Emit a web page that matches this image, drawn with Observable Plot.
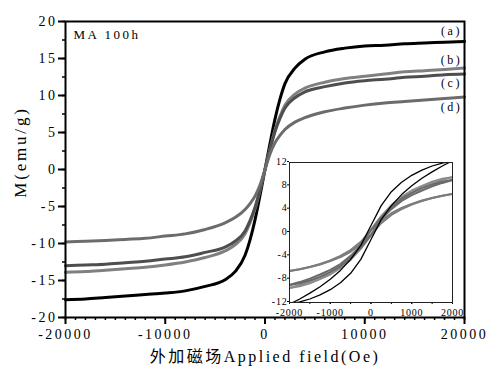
<!DOCTYPE html>
<html><head><meta charset="utf-8">
<script src="https://cdn.jsdelivr.net/npm/d3@7"></script>
<script src="https://cdn.jsdelivr.net/npm/@observablehq/plot@0.6"></script>
<style>
body{margin:0;background:#fff;}
#wrap{position:relative;width:498px;height:367px;overflow:hidden;background:#fff;}
#wrap svg{position:absolute;background:transparent;}
</style></head><body><div id="wrap"></div>
<script>
// ---- main plot data ----
const field = [-20000,-18000,-16000,-14000,-12000,-10000,-8000,-6000,-4000,-3000,-2000,-1500,-1000,-500,0,500,1000,1500,2000,3000,4000,6000,8000,10000,12000,14000,16000,18000,20000];
const seriesA = [-17.6,-17.5,-17.3,-17.1,-16.9,-16.7,-16.4,-15.8,-14.9,-13.8,-11.6,-9.5,-6.8,-3.5,0,3.5,6.8,9.5,11.6,13.7,14.9,15.9,16.4,16.7,16.8,17.0,17.1,17.2,17.3];
const seriesB = [-13.9,-13.8,-13.6,-13.4,-13.2,-12.9,-12.5,-11.9,-11.0,-10.2,-8.7,-7.2,-5.3,-2.8,0,2.8,5.3,7.2,8.7,10.2,11.0,11.8,12.3,12.6,12.9,13.2,13.35,13.5,13.7];
const seriesC = [-13.0,-12.9,-12.8,-12.6,-12.4,-12.1,-11.8,-11.2,-10.5,-9.7,-8.3,-6.9,-5.1,-2.7,0,2.7,5.1,6.9,8.3,9.7,10.5,11.2,11.7,12.0,12.2,12.45,12.6,12.8,12.9];
const seriesD = [-9.8,-9.7,-9.6,-9.45,-9.3,-9.0,-8.7,-8.1,-7.2,-6.5,-5.4,-4.6,-3.6,-2.1,0,2.1,3.6,4.6,5.4,6.4,7.0,7.8,8.3,8.7,9.0,9.2,9.4,9.6,9.8];
const seriesLabels = ["(a)","(b)","(c)","(d)"];
const seriesColors = ["#000000","#808080","#4e4e4e","#6c6c6c"];

// ---- inset data (hysteresis loops) ----
const fieldLoop = [-2000,-1750,-1500,-1250,-1000,-750,-500,-250,0,250,500,750,1000,1250,1500,1750,2000];
const aDesc = [-12.3,-11.4,-10.4,-9.3,-8.0,-6.5,-4.6,-2.2,1.2,4.6,7.0,8.6,9.8,10.7,11.4,11.9,12.3];
const aAsc  = [-12.3,-11.9,-11.4,-10.7,-9.8,-8.6,-7.0,-4.6,-1.2,2.2,4.6,6.5,8.0,9.3,10.4,11.4,12.3];
const bDesc = [-9.5,-9.0,-8.4,-7.7,-6.8,-5.7,-4.2,-2.3,0.5,2.8,4.7,6.1,7.2,8.0,8.7,9.2,9.5];
const bAsc  = [-9.5,-9.2,-8.7,-8.0,-7.2,-6.1,-4.7,-2.8,-0.5,2.3,4.2,5.7,6.8,7.7,8.4,9.0,9.5];
const cDesc = [-9.0,-8.5,-7.9,-7.2,-6.4,-5.4,-4.0,-2.2,0.4,2.6,4.4,5.8,6.8,7.6,8.2,8.7,9.0];
const cAsc  = [-9.0,-8.7,-8.2,-7.6,-6.8,-5.8,-4.4,-2.6,-0.4,2.2,4.0,5.4,6.4,7.2,7.9,8.5,9.0];
const dDesc = [-6.6,-6.3,-5.9,-5.4,-4.8,-4.0,-3.0,-1.6,0.4,2.0,3.3,4.2,4.9,5.5,5.9,6.3,6.6];
const dAsc  = [-6.6,-6.3,-5.9,-5.5,-4.9,-4.2,-3.3,-2.0,-0.4,1.6,3.0,4.0,4.8,5.4,5.9,6.3,6.6];
const insetColors = ["#000000","#8c8c8c","#6a6a6a","#7c7c7c"];

// ---- ticks and texts ----
const xMajor = [-20000,-10000,0,10000,20000];
const xMinor = d3.range(-20000, 20001, 1000);
const yMajor = [-20,-15,-10,-5,0,5,10,15,20];
const yMinor = d3.range(-20, 20.01, 2.5);
const insetX = [-2000,-1000,0,1000,2000];
const insetXMinor = d3.range(-2000, 2001, 500);
const insetY = [-12,-8,-4,0,4,8,12];
const xTitle = "外加磁场Applied field(Oe)";
const yTitle = "M(emu/g)";
const sampleTitle = "MA 100h";

const mainSeries = [seriesA, seriesB, seriesC, seriesD];
const labelDy = [-10, -8, 9, 10];

const marks = [];
mainSeries.forEach((vals, k) => {
  const rows = field.map((h, i) => ({H: h, M: vals[i]}));
  marks.push(Plot.line(rows, {x: "H", y: "M", stroke: seriesColors[k], strokeWidth: 3, curve: "monotone-x"}));
});
mainSeries.forEach((vals, k) => {
  const n = field.length - 1;
  marks.push(Plot.text([{H: field[n], M: vals[n], t: seriesLabels[k]}], {x: "H", y: "M", text: "t", dx: -13, dy: labelDy[k], fontSize: 12, letterSpacing: "1px", fill: "#000"}));
});

const main = Plot.plot({
  width: 498, height: 367,
  marginLeft: 65, marginRight: 34, marginTop: 21, marginBottom: 50,
  x: {domain: [-20000, 20000], label: null},
  y: {domain: [-20, 20], label: null},
  style: {fontFamily: "'Liberation Serif','Noto Sans CJK SC',serif", fontSize: "14px", letterSpacing: "2.5px", background: "transparent", color: "#000"},
  marks: [
    Plot.axisX(xMinor, {tickSize: 3, strokeWidth: 1.5, tickFormat: () => "", label: null}),
    Plot.axisX(xMajor, {tickSize: 7, strokeWidth: 2, tickPadding: 5, tickFormat: d => String(d), label: null}),
    Plot.axisY(yMinor, {tickSize: 3, strokeWidth: 1.5, tickFormat: () => "", label: null}),
    Plot.axisY(yMajor, {tickSize: 7, strokeWidth: 2, tickPadding: 1, tickFormat: d => String(d), label: null}),
    ...marks,
    Plot.frame({stroke: "#000", strokeWidth: 2}),
    Plot.text([sampleTitle], {frameAnchor: "top-left", dx: 8, dy: 8, textAnchor: "start", fontSize: 13, letterSpacing: "1.5px"}),
    Plot.text([xTitle], {frameAnchor: "bottom", dy: 44, fontSize: 16, letterSpacing: "2.5px"})
  ]
});
main.style.left = "0px"; main.style.top = "0px";
d3.select(main).append("text")
  .attr("transform", "translate(20,152) rotate(-90)")
  .attr("text-anchor", "middle")
  .attr("dy", "0.35em")
  .attr("font-size", 17)
  .attr("letter-spacing", "2.8px")
  .attr("fill", "#000")
  .text(yTitle);
document.getElementById("wrap").appendChild(main);

// ---- inset ----
const loops = [[aDesc, aAsc], [bDesc, bAsc], [cDesc, cAsc], [dDesc, dAsc]];
const insetMarks = [];
[1, 3, 2, 0].forEach(k => {
  loops[k].forEach(branch => {
    const rows = fieldLoop.map((h, i) => ({H: h, M: branch[i]}));
    insetMarks.push(Plot.line(rows, {x: "H", y: "M", stroke: insetColors[k], strokeWidth: k === 0 ? 1.3 : 2, clip: true}));
  });
});
const inset = Plot.plot({
  width: 201, height: 168,
  marginLeft: 20, marginRight: 18, marginTop: 10, marginBottom: 18,
  x: {domain: [-2000, 2000], label: null},
  y: {domain: [-12, 12], label: null},
  style: {fontFamily: "'Liberation Serif',serif", fontSize: "10px", letterSpacing: "0.8px", background: "transparent", color: "#000"},
  marks: [
    Plot.axisX(insetXMinor, {tickSize: 2, tickFormat: () => "", label: null}),
    Plot.axisX(insetX, {tickSize: 2, tickPadding: 4, tickFormat: d => String(d), label: null}),
    Plot.axisY(insetY, {tickSize: 2, tickPadding: 0, dy: -1, tickFormat: d => String(d), label: null}),
    ...insetMarks,
    Plot.frame({stroke: "#222", strokeWidth: 1})
  ]
});
inset.style.left = "269px"; inset.style.top = "152px";
document.getElementById("wrap").appendChild(inset);
</script></body></html>
